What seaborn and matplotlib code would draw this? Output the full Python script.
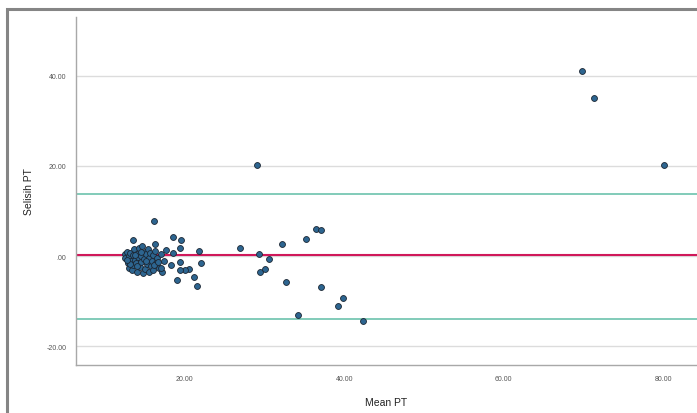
import numpy as np
import pandas as pd
import matplotlib
matplotlib.use('Agg')
import matplotlib.pyplot as plt
import seaborn as sns
from matplotlib.patches import Rectangle

# 数据
mean_pt = [
    12.5, 12.6, 12.8, 12.9, 13.0, 13.1, 13.2, 13.3, 13.4, 13.5,
    13.6, 13.7, 13.8, 13.9, 14.0, 14.1, 14.2, 14.3, 14.4, 14.5,
    14.6, 14.7, 14.8, 14.9, 15.0, 15.1, 15.2, 15.3, 15.4, 15.5,
    15.6, 15.7, 15.8, 15.9, 16.0, 16.1, 16.3, 16.4, 16.6, 16.8,
    17.0, 17.2, 17.4, 13.2, 14.0, 14.6, 15.2, 13.8, 12.8, 16.2,
    16.2, 13.6, 16.25, 18.5, 19.6, 17.7, 19.4, 21.8, 22.1, 19.0,
    21.6, 21.2, 20.6, 20.0, 19.4, 18.3, 19.4, 17.1, 16.7, 18.5,
    26.9, 29.3, 30.6, 29.4, 30.1, 32.2, 32.7, 34.25, 35.25, 36.5,
    37.1, 37.1, 39.2, 39.9, 42.4, 29.1, 69.75, 71.25, 80.1,
]
selisih_pt = [
    0.5, -0.5, 1.0, -1.5, 0.0, -2.5, 0.8, -1.0, -3.0, 0.3,
    -2.0, 1.5, -0.8, -1.6, 0.5, -3.5, -0.2, 1.8, -2.4, 0.0,
    -1.2, 2.2, -3.8, -0.6, 1.0, -2.8, 0.4, -1.8, 1.6, -0.3,
    -3.6, 0.8, -2.2, -1.0, 0.2, -3.0, 1.2, -1.5, -0.5, -2.6,
    0.5, -3.4, -1.0, -1.8, -2.2, 0.9, -1.0, 0.2, -0.8, -1.9,
    7.9, 3.5, 2.7, 4.35, 3.6, 1.4, 1.8, 1.25, -1.4, -5.2,
    -6.6, -4.7, -2.8, -3.0, -3.0, -1.9, -1.2, -2.65, -1.2, 0.65,
    1.8, 0.6, -0.6, -3.4, -2.9, 2.8, -5.8, -13.0, 3.8, 6.0,
    5.7, -6.9, -11.0, -9.3, -14.3, 20.1, 41.1, 35.1, 20.1,
]
mean_diff = 0.2
upper_loa = 13.8
lower_loa = -13.8

x_ticks = [20, 40, 60, 80]
x_ticklabels = ['20.00', '40.00', '60.00', '80.00']
y_ticks = [40, 20, 0, -20]
y_ticklabels = ['40.00', '20.00', '.00', '-20.00']

df = pd.DataFrame({'Mean PT': mean_pt, 'Selisih PT': selisih_pt})

sns.set_style('white')
plt.rcParams['font.family'] = ['Liberation Sans', 'DejaVu Sans']

fig = plt.figure(figsize=(6.97, 4.14), dpi=100)
ax = fig.add_axes([76 / 697, 1 - 366 / 414, 1 - 76 / 697, (366 - 18) / 414])

# 外框
fig.patches.append(Rectangle((7 / 697, -0.2), 1.2, 1.2 - 10 / 414,
                             transform=fig.transFigure, fill=False,
                             edgecolor='#858585', linewidth=2.2, zorder=0))

# 网格线
for yv in y_ticks:
    ax.axhline(yv, color='#dcdcdc', linewidth=1.0, zorder=0)

# 均值线和一致性界限
ax.axhline(mean_diff, color='#d0185a', linewidth=1.5, zorder=1)
ax.axhline(upper_loa, color='#6cc2ad', linewidth=1.2, zorder=1)
ax.axhline(lower_loa, color='#6cc2ad', linewidth=1.2, zorder=1)

sns.scatterplot(data=df, x='Mean PT', y='Selisih PT', ax=ax, s=18,
                color='#2d6590', edgecolor='#1b2633', linewidth=0.6, zorder=3)

ax.set_xlim(6.4, 84.2)
ax.set_ylim(-24.1, 53)
ax.set_xticks(x_ticks)
ax.set_xticklabels(x_ticklabels)
ax.set_yticks(y_ticks)
ax.set_yticklabels(y_ticklabels)
ax.tick_params(axis='both', labelsize=5, colors='#555555', length=2, width=0.6, pad=5)
ax.set_xlabel('Mean PT', fontsize=7.5, color='#222222', labelpad=11)
ax.set_ylabel('Selisih PT', fontsize=7.5, color='#222222', labelpad=9)

for side in ['top', 'right']:
    ax.spines[side].set_visible(False)
for side in ['left', 'bottom']:
    ax.spines[side].set_color('#a8a8a8')
    ax.spines[side].set_linewidth(1.0)

fig.savefig('out.png', dpi=100)
